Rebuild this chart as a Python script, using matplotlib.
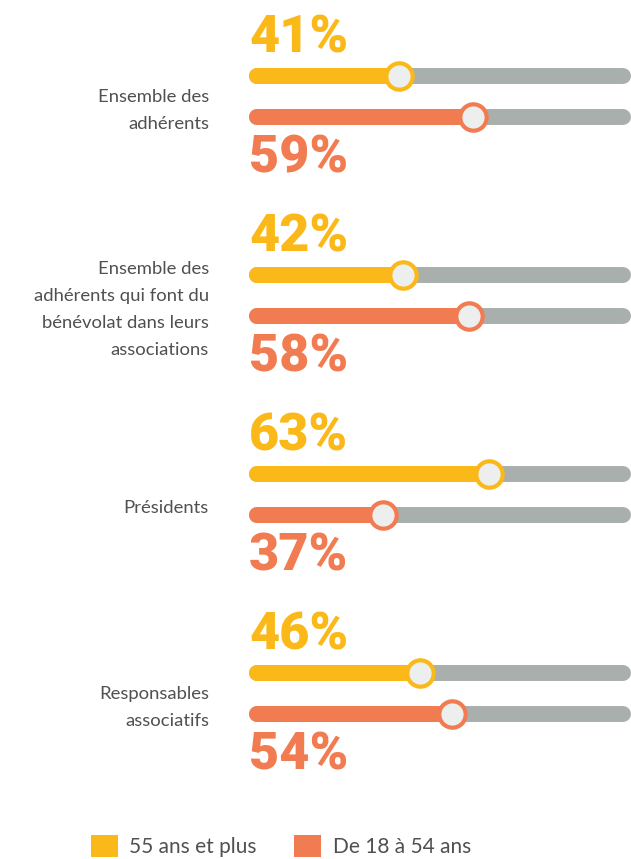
import matplotlib.pyplot as plt
from matplotlib.patches import Patch

# data
categories = ["Ensemble des\nadhérents",
              "Ensemble des\nadhérents qui font du\nbénévolat dans leurs\nassociations",
              "Présidents",
              "Responsables\nassociatifs"]
old = [41, 42, 63, 46]     # 55 ans et plus
young = [59, 58, 37, 54]   # De 18 à 54 ans
series_names = ["55 ans et plus", "De 18 à 54 ans"]

yellow = "#FBB919"
orange = "#F27C51"
grey = "#A9AFAD"
knob = "#EDEEEE"
txt = "#505050"

W, H = 631, 859
fig = plt.figure(figsize=(W / 100, H / 100), dpi=100)
# axes spanning the track area, full height
ax = fig.add_axes([249 / W, 0, 382 / W, 1])
x0, x1 = 4.17, 97.8
ax.set_xlim(x0, x1)
ax.set_ylim(3.832, -0.485)
ax.axis("off")
cap = 8 / (382 / (x1 - x0))   # half bar thickness in data units
t0, t1 = x0 + cap, x1 - cap

pct_font = dict(family=["Roboto", "DejaVu Sans"], weight="heavy", size=37.5)
lab_font = dict(family=["Lato", "DejaVu Sans"], size=13.3, color=txt)

off = 0.103
lw = 11.5
tr = ax.get_yaxis_transform()
for i, cat in enumerate(categories):
    for val, col, dy, ty in [(old[i], yellow, -off, -0.219), (young[i], orange, off, 0.384)]:
        y = i + dy
        ax.plot([t0, t1], [y, y], color=grey, lw=lw, solid_capstyle="round", zorder=1)
        ax.plot([t0, val], [y, y], color=col, lw=lw, solid_capstyle="round", zorder=2)
        ax.plot([val], [y], marker="o", ms=19, mfc=knob, mec=col, mew=3, zorder=3)
        ax.text(0, i + ty, f"{val}%", transform=tr, color=col, ha="left", va="baseline", **pct_font)
    ax.text(-0.105, i + 0.07, cat, transform=tr, ha="right",
            va="center", multialignment="right", linespacing=1.85, **lab_font)

handles = [Patch(facecolor=yellow), Patch(facecolor=orange)]
fig.legend(handles, series_names, loc="center", bbox_to_anchor=(281 / W, 1 - 846 / H),
           ncol=2, frameon=False, handlelength=1.3, handleheight=1.3,
           handletextpad=0.55, columnspacing=1.8,
           prop=dict(family=["Lato", "DejaVu Sans"], size=15), labelcolor=txt)

fig.savefig("out.png", dpi=100)
